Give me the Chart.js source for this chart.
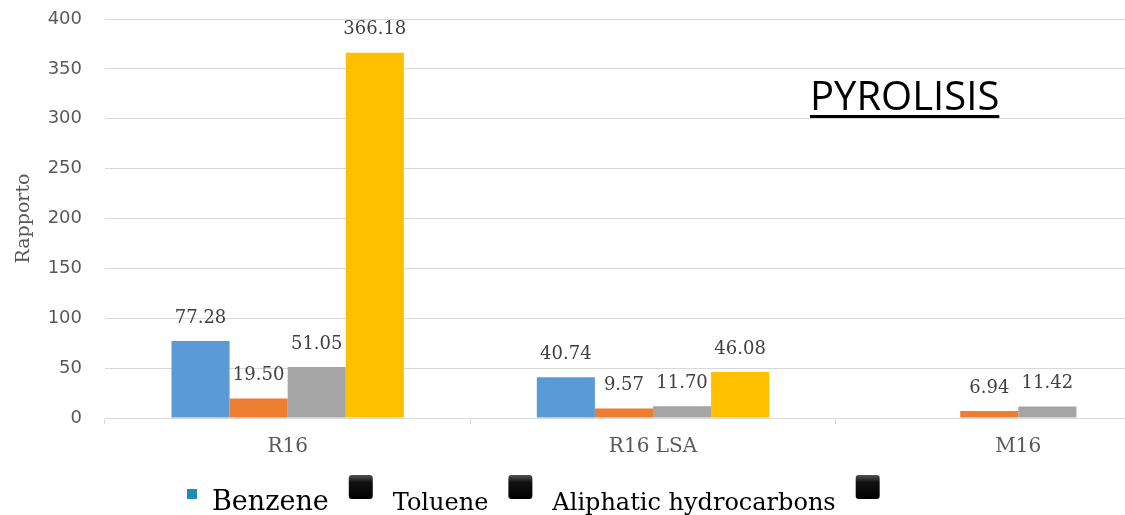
<!DOCTYPE html>
<html>
<head>
<meta charset="utf-8">
<script src="https://cdn.jsdelivr.net/npm/chart.js@4.4.0/dist/chart.umd.min.js"></script>
<style>
  html, body { margin: 0; padding: 0; background: #fff; overflow: hidden; }
  #wrap { width: 1201px; height: 515px; }
</style>
</head>
<body>
<div id="wrap"><canvas id="chart"></canvas></div>
<script>
// data
const categories = ["R16", "R16 LSA", "M16"];
const seriesNames = ["Benzene", "Toluene", "Aliphatic hydrocarbons", ""];
const benzene = [77.28, 40.74, null];
const toluene = [19.50, 9.57, 6.94];
const aliphatic = [51.05, 11.70, 11.42];
const series4 = [366.18, 46.08, null];
const yMin = 0;
const yMax = 400;
const yStep = 50;
const chartTitle = "PYROLISIS";
const yTitle = "Rapporto";

const colors = ["#5B9BD5", "#ED7D31", "#A5A5A5", "#FFC000"];
const gridColor = "#D9D9D9";
const serif = "'DejaVu Serif', serif";

// value labels above each bar
const valueLabels = {
  id: "valueLabels",
  afterDatasetsDraw(chart) {
    const ctx = chart.ctx;
    ctx.save();
    ctx.font = "18px " + serif;
    ctx.fillStyle = "#404040";
    ctx.textAlign = "center";
    ctx.textBaseline = "middle";
    chart.data.datasets.forEach((ds, i) => {
      const meta = chart.getDatasetMeta(i);
      meta.data.forEach((bar, j) => {
        const v = ds.data[j];
        if (v == null) return;
        ctx.fillText(v.toFixed(2), bar.x, bar.y - 23);
      });
    });
    ctx.restore();
  }
};

// underlined title inside the plot
const innerTitle = {
  id: "innerTitle",
  afterDraw(chart) {
    const ctx = chart.ctx;
    ctx.save();
    ctx.font = "40px 'Open Sans', sans-serif";
    ctx.fillStyle = "#000";
    ctx.textBaseline = "alphabetic";
    const x = 810, y = 110;
    ctx.fillText(chartTitle, x, y);
    const w = ctx.measureText(chartTitle).width;
    ctx.fillRect(x, 115, w, 3);
    ctx.restore();
  }
};

// the odd legend row under the chart
const legendRow = {
  id: "legendRow",
  afterDraw(chart) {
    const ctx = chart.ctx;
    ctx.save();
    ctx.textBaseline = "alphabetic";
    ctx.fillStyle = "#1E8BBA";
    ctx.fillRect(187, 489, 10, 10);
    let x = 212;
    seriesNames.slice(0, 3).forEach((name, i) => {
      ctx.font = (i === 0 ? "27px " : "24px ") + serif;
      ctx.fillStyle = "#000";
      ctx.fillText(name, x, 510);
      x += ctx.measureText(name).width + 20;
      const g = ctx.createLinearGradient(0, 475, 0, 499);
      g.addColorStop(0, "#555");
      g.addColorStop(0.3, "#111");
      g.addColorStop(1, "#000");
      ctx.fillStyle = g;
      ctx.beginPath();
      ctx.roundRect(x, 475, 24, 24, 3);
      ctx.fill();
      x += 24 + 20;
    });
    ctx.restore();
  }
};

const datasets = [benzene, toluene, aliphatic, series4].map((d, i) => ({
  label: seriesNames[i],
  data: d,
  backgroundColor: colors[i],
  borderWidth: 0,
  barPercentage: 1,
  categoryPercentage: 0.636,
}));

new Chart(document.getElementById("chart"), {
  type: "bar",
  data: { labels: categories, datasets: datasets },
  options: {
    responsive: true,
    maintainAspectRatio: false,
    animation: false,
    layout: { padding: { top: 19, bottom: 45, left: 0, right: 0 } },
    plugins: {
      legend: { display: false },
      tooltip: { enabled: false },
    },
    scales: {
      x: {
        grid: {
          drawOnChartArea: false,
          drawTicks: true,
          tickLength: 6,
          color: gridColor,
        },
        border: { display: true, color: gridColor },
        ticks: {
          padding: 11,
          color: "#595959",
          font: { family: serif, size: 20 },
        },
      },
      y: {
        min: yMin,
        max: yMax,
        afterFit(scale) { scale.width = 105; },
        ticks: {
          stepSize: yStep,
          padding: 0,
          color: "#595959",
          font: { family: "'DejaVu Sans', sans-serif", size: 18 },
        },
        // invisible tick marks keep the labels away from the plot
        grid: { color: gridColor, drawTicks: true, tickLength: 23, tickColor: "rgba(0,0,0,0)" },
        border: { display: false },
        title: {
          display: true,
          text: yTitle,
          color: "#595959",
          font: { family: serif, size: 19 },
          padding: { top: 13, bottom: 0 },
        },
      },
    },
  },
  plugins: [valueLabels, innerTitle, legendRow],
});
</script>
</body>
</html>
